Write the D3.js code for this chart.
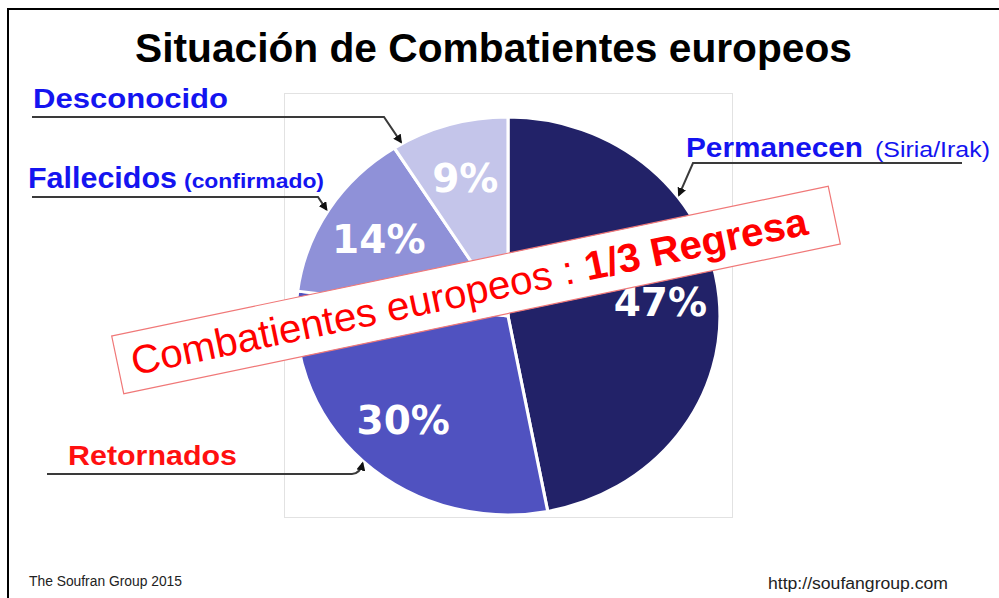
<!DOCTYPE html>
<html>
<head>
<meta charset="utf-8">
<script src="https://cdn.jsdelivr.net/npm/d3@7/dist/d3.min.js"></script>
<style>
  html, body { margin: 0; padding: 0; background: #fff; }
  svg { display: block; }
</style>
</head>
<body>
<script>
// ---- data ----
const categories = ["Permanecen", "Retornados", "Fallecidos", "Desconocido"];
const values = [47, 30, 14, 9];
const pctLabels = ["47%", "30%", "14%", "9%"];
const sliceColors = ["#222268", "#5052c0", "#8f91d8", "#c4c5ea"];
const subLabels = ["(Siria/Irak)", "", "(confirmado)", ""];
const labelColors = ["#1414f0", "#ff1010", "#1414f0", "#1414f0"];
const titleText = "Situación de Combatientes europeos";
const bannerPlain = "Combatientes europeos : ";
const bannerBold = "1/3 Regresa";
const footerLeft = "The Soufran Group 2015";
const footerRight = "http://soufangroup.com";

// ---- layout ----
const W = 999, H = 598;
const cx = 508, cy = 316, R = 205, sx = 1.034, sy = 0.97;

const svg = d3.select("body").append("svg").attr("width", W).attr("height", H);

// outer frame
svg.append("path")
  .attr("d", `M8,${H + 5} L8,9 L${W + 5},9`)
  .attr("fill", "none").attr("stroke", "#000").attr("stroke-width", 2);

// title
svg.append("text")
  .attr("x", 135).attr("y", 62)
  .attr("textLength", 717).attr("lengthAdjust", "spacingAndGlyphs")
  .style("font-family", "'Liberation Sans', Arial, sans-serif")
  .style("font-weight", "bold").style("font-size", "40px").attr("fill", "#000")
  .text(titleText);

// light frame around pie image
svg.append("rect")
  .attr("x", 284.5).attr("y", 93.5).attr("width", 448).attr("height", 424)
  .attr("fill", "none").attr("stroke", "#e2e2e2").attr("stroke-width", 1);

// pie
const pie = d3.pie().sort(null).value(d => d)(values);
const arc = d3.arc().innerRadius(0).outerRadius(R);
const labelArc = d3.arc().innerRadius(148).outerRadius(148);

const gPie = svg.append("g").attr("transform", `translate(${cx},${cy}) scale(${sx},${sy})`);
gPie.selectAll("path.slice").data(pie).join("path")
  .attr("class", "slice")
  .attr("d", arc)
  .attr("fill", (d, i) => sliceColors[i])
  .attr("stroke", "#fff").attr("stroke-width", 3).attr("stroke-linejoin", "round");

// percentage labels
svg.append("g").selectAll("text").data(pie).join("text")
  .attr("x", d => cx + labelArc.centroid(d)[0] * sx)
  .attr("y", d => cy + labelArc.centroid(d)[1] * sy)
  .attr("text-anchor", "middle").attr("dominant-baseline", "central")
  .style("font-family", "'DejaVu Sans', Verdana, sans-serif")
  .style("font-weight", "bold").style("font-size", "39px")
  .attr("fill", "#fff")
  .text((d, i) => pctLabels[i]);

// callout labels
const callouts = [
  // index, text x, baseline, main size, main length, sub gap, sub size, sub length, sub weight, line y, line x0, line x1, angle on pie
  { i: 0, x: 686, y: 157, size: 28, len: 177, subX: 875, subSize: 22, subLen: 115, subWeight: "normal",
    ly: 163, lx0: 962, lx1: 693, ang: 53 },
  { i: 1, x: 68, y: 465, size: 28, len: 169, ly: 474, lx0: 47, lx1: 352, ang: 222.8 },
  { i: 2, x: 28, y: 188, size: 29, len: 149, subX: 184, subSize: 21, subLen: 140, subWeight: "bold",
    ly: 197, lx0: 32, lx1: 318, ang: 302 },
  { i: 3, x: 33, y: 108, size: 27, len: 195, ly: 117, lx0: 32, lx1: 384, ang: 330 }
];

const defs = svg.append("defs");
defs.append("marker").attr("id", "arrow")
  .attr("viewBox", "0 0 10 10").attr("refX", 8).attr("refY", 5)
  .attr("markerWidth", 4.5).attr("markerHeight", 4.5).attr("orient", "auto")
  .append("path").attr("d", "M0,0 L10,5 L0,10 z").attr("fill", "#111");

const gC = svg.append("g");
callouts.forEach(c => {
  const a = c.ang * Math.PI / 180;
  const ex = cx + Math.sin(a) * (R + 2) * sx;
  const ey = cy - Math.cos(a) * (R + 2) * sy;
  let d;
  if (c.i === 1) {
    d = `M${c.lx0},${c.ly} L${c.lx1},${c.ly} Q${c.lx1 + 8},${c.ly} ${ex},${ey}`;
  } else {
    d = `M${c.lx0},${c.ly} L${c.lx1},${c.ly} L${ex},${ey}`;
  }
  gC.append("path").attr("d", d)
    .attr("fill", "none").attr("stroke", "#3a3a3a").attr("stroke-width", 2)
    .attr("marker-end", "url(#arrow)");

  gC.append("text")
    .attr("x", c.x).attr("y", c.y)
    .attr("textLength", c.len).attr("lengthAdjust", "spacingAndGlyphs")
    .style("font-family", "'Liberation Sans', Arial, sans-serif")
    .style("font-weight", "bold").style("font-size", c.size + "px")
    .attr("fill", labelColors[c.i])
    .text(categories[c.i]);
  if (subLabels[c.i]) {
    gC.append("text")
      .attr("x", c.subX).attr("y", c.y)
      .attr("textLength", c.subLen).attr("lengthAdjust", "spacingAndGlyphs")
      .style("font-family", "'Liberation Sans', Arial, sans-serif")
      .style("font-weight", c.subWeight).style("font-size", c.subSize + "px")
      .attr("fill", labelColors[c.i])
      .text(subLabels[c.i]);
  }
});

// banner
const bw = 732, bh = 59;
const gB = svg.append("g").attr("transform", "translate(476,290) rotate(-11.8)");
gB.append("rect")
  .attr("x", -bw / 2).attr("y", -bh / 2).attr("width", bw).attr("height", bh)
  .attr("fill", "#fff").attr("stroke", "#f07878").attr("stroke-width", 1.2);
const bt = gB.append("text")
  .attr("x", -bw / 2 + 14).attr("y", 13.5)
  .attr("textLength", 690).attr("lengthAdjust", "spacingAndGlyphs")
  .style("font-family", "'Liberation Sans', Arial, sans-serif")
  .style("font-size", "40px").attr("fill", "#ff0000");
bt.append("tspan").text(bannerPlain);
bt.append("tspan").style("font-weight", "bold").text(bannerBold);

// footer
svg.append("text").attr("x", 29).attr("y", 586)
  .attr("textLength", 153).attr("lengthAdjust", "spacingAndGlyphs")
  .style("font-family", "'Liberation Sans', Arial, sans-serif")
  .style("font-size", "14px").attr("fill", "#222").text(footerLeft);
svg.append("text").attr("x", 768).attr("y", 589)
  .attr("textLength", 180).attr("lengthAdjust", "spacingAndGlyphs")
  .style("font-family", "'Liberation Sans', Arial, sans-serif")
  .style("font-size", "16px").attr("fill", "#222").text(footerRight);
</script>
</body>
</html>
